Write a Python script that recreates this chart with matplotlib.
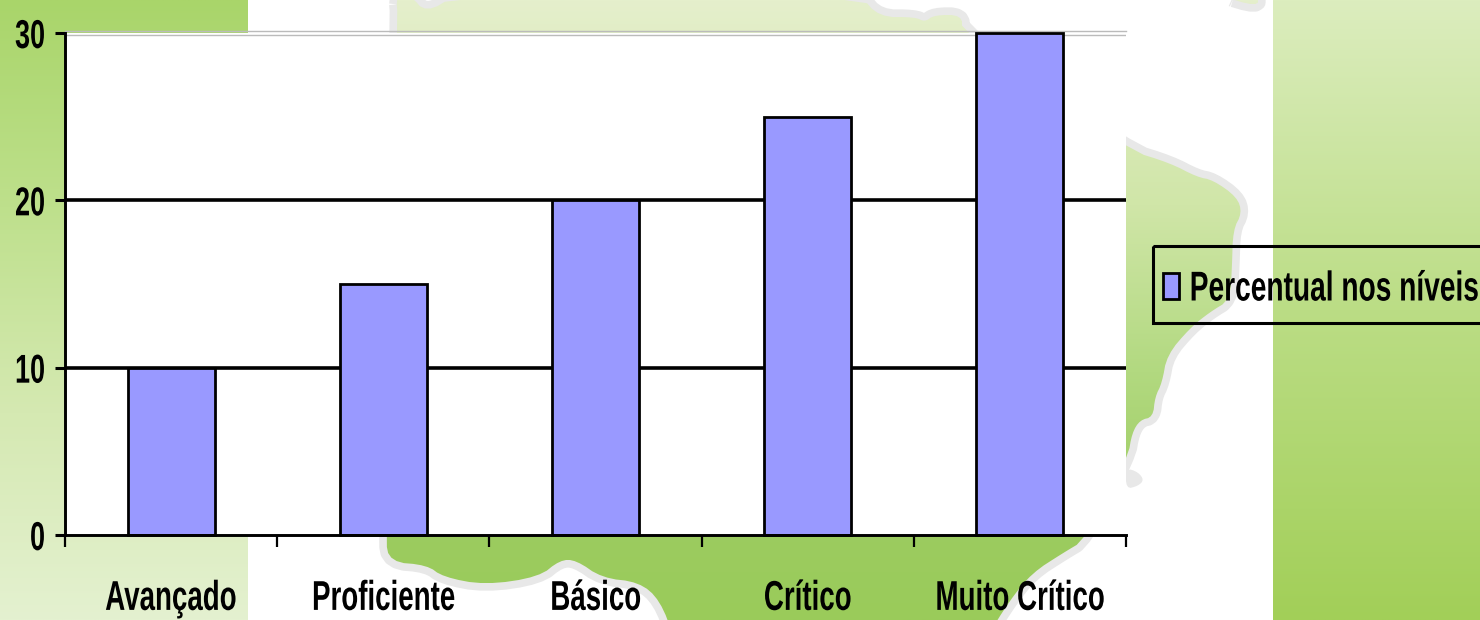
import numpy as np
import matplotlib
matplotlib.use("Agg")
import matplotlib.pyplot as plt
import matplotlib.patheffects as pe
from matplotlib.colors import LinearSegmentedColormap
from matplotlib.patches import Polygon, Rectangle
from matplotlib.transforms import Affine2D

# datos del grafico
categorias = ["Avançado", "Proficiente", "Básico", "Crítico", "Muito Crítico"]
percentual = [10, 15, 20, 25, 30]
ticks_y = [0, 10, 20, 30]
serie = "Percentual nos níveis"

# contorno del mapa de fondo (pixeles de la imagen)
mapa_x = [396, 398, 385, 390, 427, 443, 485, 539, 560, 576, 602, 639, 660, 675, 985, 1010, 1032, 1063, 1085,
          1128, 1132, 1140, 1153, 1155, 1162, 1167, 1190, 1210, 1230, 1232, 1233, 1242, 1237, 1213, 1197, 1170, 1128,
          962, 962, 934, 925, 915, 879, 860, 456, 426, 410]
mapa_y = [-5, 20, 538, 562, 565, 577, 585, 577, 560, 560, 578, 582, 600, 640, 640, 600, 573, 553, 540,
          457, 433, 420, 417, 397, 383, 355, 328, 312, 300, 267, 230, 213, 197, 180, 177, 163, 150,
          32, 15, 15, 22, 17, 17, -5, -5, 13, -5]
mapa_extra_x = [1218, 1258, 1258]
mapa_extra_y = [-5, 7, -5]


class Condensar(pe.AbstractPathEffect):
    # estrecha el texto en horizontal, la fuente del original es condensada
    def __init__(self, escala, ancla="center"):
        super().__init__()
        self.escala = escala
        self.ancla = ancla

    def draw_path(self, renderer, gc, tpath, affine, rgbFace=None):
        caja = tpath.transformed(affine).get_extents()
        x0 = {"left": caja.x0, "right": caja.x1, "center": (caja.x0 + caja.x1) / 2}[self.ancla]
        nuevo = affine + Affine2D().translate(-x0, 0).scale(self.escala, 1).translate(x0, 0)
        renderer.draw_path(gc, tpath, nuevo, rgbFace)


def suavizar(xs, ys, veces=2):
    # recorte de esquinas para que la costa no salga a tramos rectos
    p = np.column_stack([xs, ys]).astype(float)
    for _ in range(veces):
        q = np.roll(p, -1, axis=0)
        p = np.column_stack([0.75 * p + 0.25 * q, 0.25 * p + 0.75 * q]).reshape(-1, 2)
    return p


plt.rcParams["font.family"] = ["Liberation Sans", "DejaVu Sans"]
plt.rcParams["font.weight"] = "bold"

fig = plt.figure(figsize=(14.8, 6.2), dpi=100)

# fondo: bandas verdes y mapa
bg = fig.add_axes([0, 0, 1, 1], zorder=0)
bg.axis("off")

grad = np.linspace(0, 1, 256).reshape(-1, 1)
izq = LinearSegmentedColormap.from_list("izq", ["#A9D56A", "#BEE08C", "#D5E9B2", "#E4F1D0"])
der = LinearSegmentedColormap.from_list("der", ["#DCEDBE", "#BBDD85", "#A2CF58"])
centro = LinearSegmentedColormap.from_list(
    "centro", [(0, "#E5EFCC"), (0.33, "#D0E6A8"), (0.6, "#B2D980"), (0.85, "#9CCC60"), (1, "#9ACB5A")])

bg.imshow(grad, cmap=izq, extent=[0, 248, 620, 0], aspect="auto")
bg.imshow(grad, cmap=der, extent=[1273, 1480, 620, 0], aspect="auto")

for xs, ys in [(mapa_x, mapa_y), (mapa_extra_x, mapa_extra_y)]:
    puntos = suavizar(xs, ys)
    bg.add_patch(Polygon(puntos, closed=True, facecolor="none", edgecolor="#E8E8E8",
                         lw=11, joinstyle="round", zorder=1))
    im = bg.imshow(grad, cmap=centro, extent=[300, 1272, 620, 0], aspect="auto", zorder=2)
    im.set_clip_path(Polygon(puntos, closed=True, transform=bg.transData))
# mancha gris de la isla
bg.add_patch(Polygon(suavizar([1126, 1138, 1144, 1138, 1126], [468, 472, 480, 486, 489]),
                     closed=True, facecolor="#E8E8E8", edgecolor="none", zorder=3))
# marco de la leyenda, se sale por la derecha
bg.add_patch(Rectangle((1153, 246), 340, 77, facecolor="none", edgecolor="black", lw=2.2, zorder=4))
bg.set_xlim(0, 1480)
bg.set_ylim(620, 0)

# grafico principal
ax = fig.add_axes([65 / 1480, 1 - 535 / 620, (1126 - 65) / 1480, (535 - 33) / 620], zorder=2)
ax.set_facecolor("white")
pos = np.arange(len(categorias))
ax.axhline(10, color="black", lw=2.6, zorder=1)
ax.axhline(20, color="black", lw=2.6, zorder=1)
ax.axhline(30.1, color="#BBBBBB", lw=1, zorder=1, clip_on=False)
ax.axhline(29.87, color="#BBBBBB", lw=1, zorder=1)
ax.bar(pos, percentual, width=0.41, color="#9999FF", edgecolor="black", lw=2, zorder=2,
       clip_on=False, label=serie)

ax.set_xlim(-0.5, 4.5)
ax.set_ylim(0, 30)
ax.set_yticks(ticks_y)
ax.set_xticks(pos[:-1] + 0.5)
ax.set_xticks([-0.5, 4.5], minor=True)
ax.set_xticklabels([])
for p, c in zip(pos, categorias):
    ax.annotate(c, (p, 0), xytext=(0, -46), textcoords="offset points",
                ha="center", va="center", fontsize=30, annotation_clip=False,
                path_effects=[Condensar(0.665)])
ax.tick_params(axis="y", length=7, width=2.2, labelsize=29, pad=7)
ax.tick_params(axis="x", which="both", length=8.5, width=1.6)
for t in ax.get_yticklabels():
    t.set_path_effects([Condensar(0.67, "right")])
for s in ["top", "right"]:
    ax.spines[s].set_visible(False)
for s in ["left", "bottom"]:
    ax.spines[s].set_linewidth(2.1)

# leyenda
leg = fig.legend(loc="center left", bbox_to_anchor=(1163 / 1480, 1 - 289.5 / 620), frameon=False,
                 fontsize=30, borderaxespad=0, borderpad=0, handlelength=0.38, handleheight=0.6,
                 handletextpad=0.24)
for t in leg.get_texts():
    t.set_path_effects([Condensar(0.675, "left")])
leg.set_zorder(5)

fig.savefig("out.png", dpi=100)
